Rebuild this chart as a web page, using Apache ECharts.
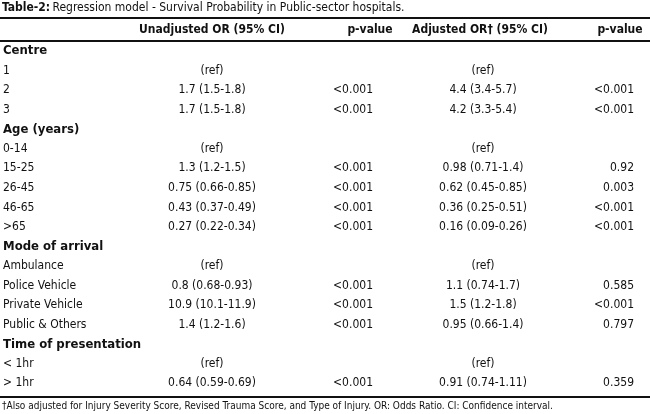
<!DOCTYPE html>
<html>
<head>
<meta charset="utf-8">
<script src="https://cdn.jsdelivr.net/npm/echarts@6/dist/echarts.min.js"></script>
<style>html,body{margin:0;padding:0;background:#fff}#main{width:650px;height:414px}</style>
</head>
<body>
<div id="main"></div>
<script>
var titleText = ['Table-2:', ' Regression model - Survival Probability in Public-sector hospitals.'];
var headers = ['Unadjusted OR (95% CI)', 'p-value', 'Adjusted OR\u2020 (95% CI)', 'p-value'];
// section rows have null values
var rowLabels = ['Centre', '1', '2', '3', 'Age (years)', '0-14', '15-25', '26-45', '46-65', '>65',
    'Mode of arrival', 'Ambulance', 'Police Vehicle', 'Private Vehicle', 'Public & Others',
    'Time of presentation', '< 1hr', '> 1hr'];
var unadjusted = [null, '(ref)', '1.7 (1.5-1.8)', '1.7 (1.5-1.8)', null, '(ref)', '1.3 (1.2-1.5)', '0.75 (0.66-0.85)', '0.43 (0.37-0.49)', '0.27 (0.22-0.34)',
    null, '(ref)', '0.8 (0.68-0.93)', '10.9 (10.1-11.9)', '1.4 (1.2-1.6)', null, '(ref)', '0.64 (0.59-0.69)'];
var pUnadjusted = [null, '', '<0.001', '<0.001', null, '', '<0.001', '<0.001', '<0.001', '<0.001',
    null, '', '<0.001', '<0.001', '<0.001', null, '', '<0.001'];
var adjusted = [null, '(ref)', '4.4 (3.4-5.7)', '4.2 (3.3-5.4)', null, '(ref)', '0.98 (0.71-1.4)', '0.62 (0.45-0.85)', '0.36 (0.25-0.51)', '0.16 (0.09-0.26)',
    null, '(ref)', '1.1 (0.74-1.7)', '1.5 (1.2-1.8)', '0.95 (0.66-1.4)', null, '(ref)', '0.91 (0.74-1.11)'];
var pAdjusted = [null, '', '<0.001', '<0.001', null, '', '0.92', '0.003', '<0.001', '<0.001',
    null, '', '0.585', '<0.001', '0.797', null, '', '0.359'];
var footnote = '\u2020Also adjusted for Injury Severity Score, Revised Trauma Score, and Type of Injury. OR: Odds Ratio. CI: Confidence interval.';

var font = '"Liberation Sans Narrow", "DejaVu Sans Condensed", sans-serif';
var chart = echarts.init(document.getElementById('main'));
var els = [];

function txt(x, y, s, align, bold, size) {
    els.push({
        type: 'text', x: x, y: y,
        style: {
            text: s, fill: '#111', font: (bold ? 'bold ' : '') + (size || 12) + 'px ' + font,
            textAlign: align || 'left', textVerticalAlign: 'middle'
        }
    });
}
function rule(y, w) {
    els.push({type: 'rect', shape: {x: 0, y: y, width: 650, height: w}, style: {fill: '#111'}});
}

txt(2, 8, titleText[0], 'left', true, 12);
els.push({type: 'text', x: 49, y: 8, style: {text: titleText[1], fill: '#111', font: '12px ' + font, textVerticalAlign: 'middle'}});
rule(17, 2);
txt(212, 30, headers[0], 'center', true);
txt(370, 30, headers[1], 'center', true);
txt(480, 30, headers[2], 'center', true);
txt(620, 30, headers[3], 'center', true);
rule(40, 2);

var y0 = 51, dy = 19.55;
for (var i = 0; i < rowLabels.length; i++) {
    var y = y0 + i * dy;
    if (unadjusted[i] === null) {
        txt(3, y, rowLabels[i], 'left', true, 13);
        continue;
    }
    txt(3, y, rowLabels[i]);
    txt(212, y, unadjusted[i], 'center');
    txt(373, y, pUnadjusted[i], 'right');
    txt(483, y, adjusted[i], 'center');
    txt(634, y, pAdjusted[i], 'right');
}
rule(396, 2);
txt(2, 406, footnote, 'left', false, 10);

chart.setOption({
    animation: false,
    graphic: els
});
</script>
</body>
</html>
